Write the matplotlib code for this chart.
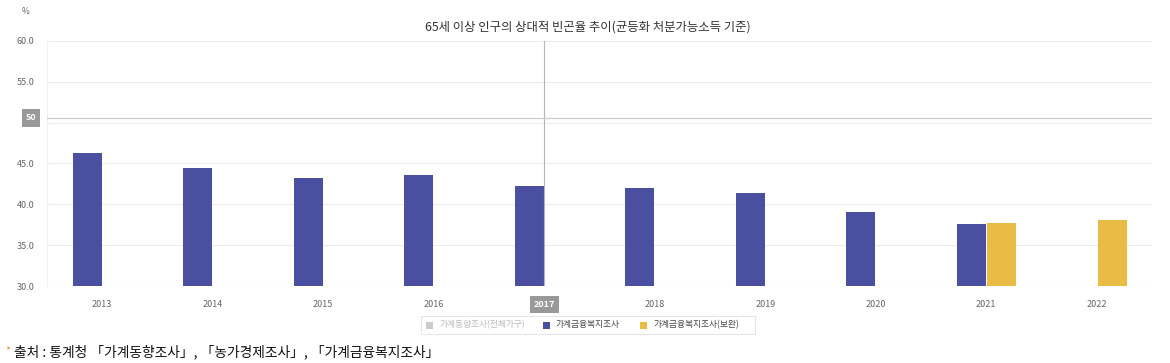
import numpy as np
import matplotlib.pyplot as plt
from matplotlib.patches import Rectangle

plt.rcParams['font.family'] = ['Noto Sans CJK KR', 'DejaVu Sans']

# data
years = ['2013', '2014', '2015', '2016', '2017', '2018', '2019', '2020', '2021', '2022']
welfare = [46.3, 44.5, 43.2, 43.6, 42.3, 42.0, 41.4, 39.0, 37.6, np.nan]
welfare_sup = [np.nan, np.nan, np.nan, np.nan, np.nan, np.nan, np.nan, np.nan, 37.7, 38.1]
yticks = [30, 35, 40, 45, 50, 55, 60]

blue = '#4b4f9f'
yellow = '#e8bc45'
grid_c = '#ececec'
text_c = '#666666'

fig = plt.figure(figsize=(11.7, 3.63), dpi=100)
ax = fig.add_axes([47 / 1170, 1 - 286 / 363, 1105 / 1170, 245 / 363])

x = np.arange(len(years))
w = 0.26
ax.bar(x - w / 2 - 0.005, welfare, width=w, color=blue, zorder=3)
ax.bar(x + w / 2 + 0.01, welfare_sup, width=w, color=yellow, zorder=3)

ax.set_xlim(-0.5, len(years) - 0.5)
ax.set_ylim(30, 60)
ax.set_yticks(yticks)
ax.set_yticklabels(['%.1f' % v if v != 50 else '' for v in yticks])
ax.set_xticks(x)
ax.set_xticklabels(years)
ax.tick_params(axis='both', length=0, labelsize=6.5, labelcolor=text_c)
ax.tick_params(axis='y', pad=9)
ax.tick_params(axis='x', pad=10)
ax.grid(axis='y', color=grid_c, linewidth=0.8, zorder=0)
for s in ['top', 'right', 'bottom']:
    ax.spines[s].set_visible(False)
ax.spines['left'].set_color('#f0f0f0')

# hover crosshair
ax.axvline(4, color='#b5b5b5', linewidth=0.8, zorder=4)
ax.axhline(50.6, color='#cccccc', linewidth=0.9, zorder=4)
fig.text(31 / 1170, 1 - 118 / 363, '50', fontsize=6.5, color='white',
         ha='center', va='center', fontweight='bold',
         bbox=dict(boxstyle='square,pad=0.45', fc='#999999', ec='none'))
xl = ax.get_xticklabels()[4]
xl.set_color('white')
xl.set_fontweight('bold')
xl.set_bbox(dict(boxstyle='square,pad=0.45', fc='#999999', ec='none'))

fig.text(588 / 1170, 1 - 27 / 363, '65세 이상 인구의 상대적 빈곤율 추이(균등화 처분가능소득 기준)',
         ha='center', va='center', fontsize=8.9, color='#333333')
fig.text(22 / 1170, 1 - 11 / 363, '%', ha='left', va='center', fontsize=6, color=text_c)

# legend
fig.patches.append(Rectangle((421 / 1170, 1 - 334 / 363), 334 / 1170, 18 / 363,
                             transform=fig.transFigure, fc='white', ec='#e6e6e6', lw=0.8))
items = [(426, '#cccccc', '가계동향조사(전체가구)', '#bbbbbb'),
         (543, blue, '가계금융복지조사', '#444444'),
         (640, yellow, '가계금융복지조사(보완)', '#444444')]
for px, c, label, tc in items:
    fig.patches.append(Rectangle((px / 1170, 1 - 329 / 363), 7 / 1170, 7 / 363,
                                 transform=fig.transFigure, fc=c, ec='none'))
    fig.text((px + 13) / 1170, 1 - 325 / 363, label, ha='left', va='center',
             fontsize=6.3, color=tc)

# source
fig.text(5 / 1170, 1 - 349 / 363, '\u2023', ha='left', va='center', fontsize=7, color='#e0a060')
fig.text(14 / 1170, 1 - 352 / 363, '출처 : 통계청 「가계동향조사」, 「농가경제조사」, 「가계금융복지조사」',
         ha='left', va='center', fontsize=9.9, color='#111111')

fig.savefig('out.png', dpi=100, facecolor='white')
